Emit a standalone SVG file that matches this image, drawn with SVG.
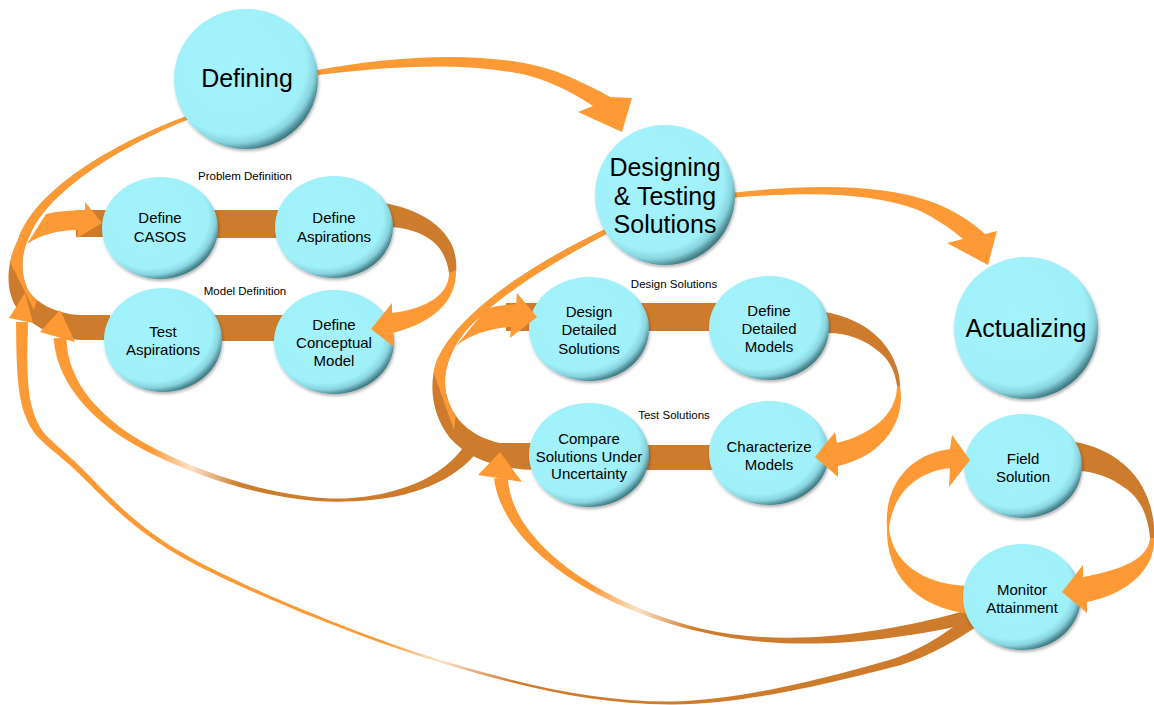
<svg xmlns="http://www.w3.org/2000/svg" xmlns:xlink="http://www.w3.org/1999/xlink" width="1154" height="705" viewBox="0 0 1154 705">
<style>
.lt{fill:#FD9A35}
.dk{fill:#CD7B2C}
.node ellipse{fill:url(#ball);filter:url(#sh)}
text{font-family:"Liberation Sans",Arial,sans-serif;fill:#000;text-anchor:middle}
.big{font-size:25px}
.sm{font-size:15px}
.lab{font-size:11.5px}
</style>
<defs>
<radialGradient id="ball" cx="0.42" cy="0.4" r="0.62" fx="0.42" fy="0.4">
<stop offset="0" stop-color="#A4F3FC"/>
<stop offset="0.8" stop-color="#A0F0FA"/>
<stop offset="0.9" stop-color="#88D4DE"/>
<stop offset="0.97" stop-color="#52909A"/>
<stop offset="1" stop-color="#3F7A83"/>
</radialGradient>
<filter id="sh" x="-10%" y="-10%" width="125%" height="130%">
<feDropShadow dx="1" dy="2" stdDeviation="1.5" flood-color="#000" flood-opacity="0.3"/>
</filter>
<linearGradient id="gA" gradientUnits="userSpaceOnUse" x1="20" y1="0" x2="974" y2="0">
<stop offset="0" stop-color="#FD9A35"/>
<stop offset="0.38" stop-color="#FD9A35"/>
<stop offset="0.44" stop-color="#FBE2C8"/>
<stop offset="0.52" stop-color="#CD7B2C"/>
<stop offset="1" stop-color="#CD7B2C"/>
</linearGradient>
<linearGradient id="gB" gradientUnits="userSpaceOnUse" x1="60" y1="0" x2="470" y2="0">
<stop offset="0" stop-color="#FD9A35"/>
<stop offset="0.22" stop-color="#FD9A35"/>
<stop offset="0.32" stop-color="#FBE2C8"/>
<stop offset="0.44" stop-color="#CD7B2C"/>
<stop offset="1" stop-color="#CD7B2C"/>
</linearGradient>
<linearGradient id="gC" gradientUnits="userSpaceOnUse" x1="495" y1="0" x2="972" y2="0">
<stop offset="0" stop-color="#FD9A35"/>
<stop offset="0.2" stop-color="#FD9A35"/>
<stop offset="0.3" stop-color="#FBE2C8"/>
<stop offset="0.42" stop-color="#CD7B2C"/>
<stop offset="1" stop-color="#CD7B2C"/>
</linearGradient>
<clipPath id="clipL"><polygon points="-10,-10 400,-10 400,200 60,200 45,270 34,310 -2,238 -10,238"/></clipPath>
<clipPath id="clipM"><polygon points="380,150 700,150 700,380 460,380 454,430 415,320 380,320"/></clipPath>
<path id="loopL" d="M187,116 C 110,145 35,190 18,240 C 5,265 5,295 20,312 C 35,328 55,338 80,340 L 110,340 L 110,315 L 78,315 C 55,313 35,303 27,288 C 20,272 21,252 30,235 C 48,192 116,148 189,119 Z"/>
<path id="loopM" d="M612,226 C 535,262 460,310 437,360 C 428,385 432,415 450,438 C 470,460 500,470 540,470 L 540,443 L 500,443 C 475,438 455,422 448,400 C 440,378 448,350 470,326 C 500,295 552,262 614,230 Z"/>
</defs>
<rect width="1154" height="705" fill="#fff"/>

<g id="connectors-back">
<!-- Defining to Designing -->
<path class="lt" d="M312,71 C 400,54 500,50 560,73 C 582,82 598,90 610,97 L 632,98 L 622,132 L 578,112 L 593,106 C 572,92 548,80 522,74 C 460,62 390,66 312,76 Z"/>
<!-- Designing to Actualizing -->
<path class="lt" d="M730,193 C 800,185 880,182 935,203 C 955,211 972,222 985,234 L 997,231 L 988,265 L 947,243 L 963,239 C 950,228 935,218 918,210 C 870,191 800,192 730,198 Z"/>
<!-- horizontal bands -->
<rect class="dk" x="200" y="210" width="90" height="28"/>
<rect class="dk" x="205" y="315" width="85" height="26"/>
<rect class="dk" x="630" y="303" width="95" height="28"/>
<rect class="dk" x="630" y="445" width="95" height="25"/>
<rect class="dk" x="76" y="210" width="40" height="27"/>
<rect class="dk" x="506" y="303" width="40" height="28"/>
<!-- long return curves -->
<path fill="url(#gB)" d="M53.5,338.3 C 57.2,387.2 97.7,428.2 153.7,454.7 C 214.1,484.4 289.7,504 345.1,501.5 C 400.5,500.9 447.9,486.1 475.5,454.3 L 464.5,445.7 C 442.1,477.9 399.5,495.1 344.9,498.5 C 290.3,500 215.9,479.6 156.3,449.3 C 102.3,421.8 66.8,382.8 66.5,337.7 Z"/>
<path fill="url(#gA)" d="M16,322 C 16.5,352 16,391.2 24.76,414.5 C 33.5,437.8 42.6,441.1 69.98,465.2 C 97.2,489.5 127.6,528.7 190.06,561.76 C 252.5,594.8 365.8,640.5 445.66,664.15 C 525.4,688 595.5,704.4 670,704.5 C 744.5,705.3 843.2,680 894.05,666.86 C 921.9,660.3 955.6,641.3 978.2,625.6 L 969.8,614.4 C 948.4,631.7 919.3,650.7 891.95,659.14 C 841.4,673.6 744.5,700.7 670,701.5 C 595.5,701.6 526.2,685.6 446.34,661.85 C 366.6,637.9 254.1,591.8 191.94,558.24 C 129.8,524.7 100.8,485.5 74.02,460.8 C 47.4,435.9 41.1,435.2 33.24,411.5 C 25.4,387.8 27.5,352 28,322 Z"/>
<!-- left loop -->
<use xlink:href="#loopL" href="#loopL" class="dk"/>
<use xlink:href="#loopL" href="#loopL" class="lt" clip-path="url(#clipL)"/>
<!-- middle loop -->
<use xlink:href="#loopM" href="#loopM" class="dk"/>
<use xlink:href="#loopM" href="#loopM" class="lt" clip-path="url(#clipM)"/>
<!-- curve C -->
<path fill="url(#gC)" d="M494,478.5 C 500.8,537.7 578.7,602.7 699.6,631.5 C 789.8,654.5 896,640.9 974.5,622.5 L 969.5,609.5 C 894,631.1 790.2,649.5 700.4,628.5 C 581.3,597.3 509.2,532.3 508,477.5 Z"/>
<path class="lt" d="M478,475 L 500,452 L 522,482 Z"/>
<!-- up arrowheads at left -->
<path class="lt" d="M9,318 L 25,293 L 33,323 Z"/>
<path class="lt" d="M40,332 L 60,310 L 75,342 Z"/>
<!-- right loop dark parts -->
<path class="dk" d="M383,203 C 410,207 440,220 452,245 C 456,255 457,265 456,272 L 449,273 C 447,258 440,245 428,238 C 417,231 403,227 388,227 Z"/>
<path class="dk" d="M825,312 C 858,318 885,335 896,365 C 899,373 900,380 900,386 L 897,386 C 895,370 888,358 878,351 C 865,340 848,333 828,333 Z"/>
<path class="dk" d="M1075,442 C 1110,448 1140,470 1150,505 C 1153,515 1155,528 1154,538 L 1150,538 C 1148,515 1140,498 1125,488 C 1110,477 1095,472 1080,471 Z"/>
<!-- Monitor to Field lower part -->
<path class="lt" d="M970,586 C 920,585 892,560 889,528 L 887,528 C 886,575 915,607 970,614 Z"/>
</g>

<g id="node-defining" class="node"><ellipse cx="246" cy="79" rx="72" ry="70"/><text class="big" x="247" y="87">Defining</text></g>
<g id="node-designing" class="node"><ellipse cx="665" cy="195" rx="70" ry="70"/><text class="big" x="665" y="176">Designing</text><text class="big" x="665" y="205">&amp; Testing</text><text class="big" x="665" y="233">Solutions</text></g>
<g id="node-actualizing" class="node"><ellipse cx="1026" cy="328" rx="72" ry="71"/><text class="big" x="1026" y="337">Actualizing</text></g>
<g id="node-define-casos" class="node"><ellipse cx="160" cy="228" rx="58" ry="51"/><text class="sm" x="160" y="223">Define</text><text class="sm" x="160" y="242">CASOS</text></g>
<g id="node-define-aspirations" class="node"><ellipse cx="334" cy="227" rx="59" ry="51"/><text class="sm" x="334" y="223">Define</text><text class="sm" x="334" y="242">Aspirations</text></g>
<g id="node-test-aspirations" class="node"><ellipse cx="163" cy="340" rx="59" ry="52"/><text class="sm" x="163" y="337">Test</text><text class="sm" x="163" y="355">Aspirations</text></g>
<g id="node-define-conceptual-model" class="node"><ellipse cx="334" cy="342" rx="60" ry="52"/><text class="sm" x="334" y="330">Define</text><text class="sm" x="334" y="348">Conceptual</text><text class="sm" x="334" y="366">Model</text></g>
<g id="node-design-detailed-solutions" class="node"><ellipse cx="589" cy="329" rx="60" ry="52"/><text class="sm" x="589" y="317">Design</text><text class="sm" x="589" y="335">Detailed</text><text class="sm" x="589" y="354">Solutions</text></g>
<g id="node-define-detailed-models" class="node"><ellipse cx="769" cy="328" rx="60" ry="52"/><text class="sm" x="769" y="316">Define</text><text class="sm" x="769" y="334">Detailed</text><text class="sm" x="769" y="352">Models</text></g>
<g id="node-compare-solutions" class="node"><ellipse cx="589" cy="455" rx="60" ry="52"/><text class="sm" x="589" y="444">Compare</text><text class="sm" x="589" y="462">Solutions Under</text><text class="sm" x="589" y="479">Uncertainty</text></g>
<g id="node-characterize-models" class="node"><ellipse cx="769" cy="453" rx="60" ry="52"/><text class="sm" x="769" y="452">Characterize</text><text class="sm" x="769" y="470">Models</text></g>
<g id="node-field-solution" class="node"><ellipse cx="1023" cy="466" rx="59" ry="52"/><text class="sm" x="1023" y="464">Field</text><text class="sm" x="1023" y="482">Solution</text></g>
<g id="node-monitor-attainment" class="node"><ellipse cx="1022" cy="597" rx="59" ry="53"/><text class="sm" x="1022" y="595">Monitor</text><text class="sm" x="1022" y="613">Attainment</text></g>

<g id="connectors-front">
<!-- into Define CASOS -->
<path class="lt" d="M46,214 C 60,211 72,210 85,210 L 85,202 L 102,223 L 77,238 L 78,230 C 60,230 42,234 27,244 Z"/>
<!-- into Design Detailed Solutions -->
<path class="lt" d="M486,309 C 496,306 506,305 516,304 L 517,293 L 537,317 L 510,338 L 511,327 C 490,328 470,335 456,346 Z"/>
<!-- into Define Conceptual Model -->
<path class="lt" d="M456,270 C 457,300 435,322 393,333 L 394,347 L 371,329 L 392,303 L 392,313 C 430,308 449,293 449,273 Z"/>
<!-- into Characterize Models -->
<path class="lt" d="M900,386 C 906,420 885,455 838,466 L 838,477 L 815,457 L 835,432 L 837,443 C 870,435 897,415 897,386 Z"/>
<!-- into Monitor Attainment -->
<path class="lt" d="M1154,538 C 1156,570 1125,595 1087,602 L 1087,613 L 1062,592 L 1083,565 L 1083,577 C 1120,570 1148,560 1150,538 Z"/>
<!-- into Field Solution -->
<path class="lt" d="M887,528 C 884,490 905,455 950,449 L 952,435 L 970,460 L 949,487 L 950,468 C 915,472 893,495 889,528 Z"/>
</g>

<g id="labels">
<text class="lab" x="245" y="180">Problem Definition</text>
<text class="lab" x="245" y="295">Model Definition</text>
<text class="lab" x="674" y="288">Design Solutions</text>
<text class="lab" x="674" y="419">Test Solutions</text>
</g>
</svg>
